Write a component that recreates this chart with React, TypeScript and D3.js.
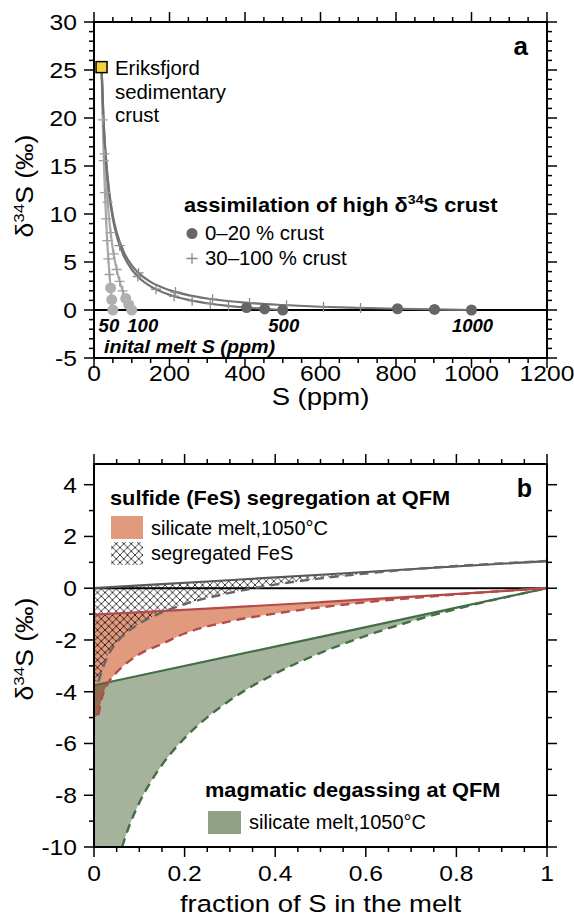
import React from 'react';
import * as d3 from 'd3';

const FONT = "'Liberation Sans', Arial, Helvetica, sans-serif";

// ---------- Panel a data: S (ppm) vs d34S ----------
const initialMeltS = ['50', '100', '500', '1000'];
const initialMeltSValue = [50, 100, 500, 1000];
const crustPoint: [number, number] = [20, 25.3];

const curve50: [number, number][] = [[50, 0], [47.5, 0.9], [45, 1.87], [42.5, 2.98], [40, 4.22], [37.5, 5.62], [35, 7.23], [32.5, 9.08], [30, 11.24], [27.5, 13.8], [25, 16.87], [22.5, 20.6], [20, 25.3]];
const curve100: [number, number][] = [[100, 0], [90, 0.7], [80, 1.58], [70, 2.71], [60, 4.22], [50, 6.33], [40, 9.49], [35, 11.75], [30, 14.76], [25, 18.98], [20, 25.3]];
const curve500: [number, number][] = [[500, 0], [450, 0.12], [400, 0.26], [350, 0.45], [300, 0.7], [250, 1.05], [200, 1.58], [150, 2.46], [120, 3.34], [100, 4.22], [80, 5.53], [60, 7.73], [50, 9.49], [40, 12.1], [30, 16.5], [25, 20.0], [20, 25.3]];
const curve1000: [number, number][] = [[1000, 0], [900, 0.06], [800, 0.13], [700, 0.22], [600, 0.34], [500, 0.52], [400, 0.77], [300, 1.2], [250, 1.55], [200, 2.07], [150, 2.93], [120, 3.79], [100, 4.65], [80, 5.94], [60, 8.09], [50, 9.81], [40, 12.4], [30, 16.7], [25, 20.1], [20, 25.3]];

const dots50: [number, number][] = [[50, 0], [47, 1.08], [44, 2.3]];
const dots100: [number, number][] = [[100, 0], [92, 0.55], [84, 1.2]];
const dots500: [number, number][] = [[500, 0], [452, 0.11], [404, 0.25]];
const dots1000: [number, number][] = [[1000, 0], [902, 0.06], [804, 0.13]];

const cross50: [number, number][] = [[41, 3.7], [38, 5.33], [35, 7.23], [32, 9.49], [29, 12.22], [26, 15.57], [23, 19.8]];
const cross100: [number, number][] = [[76, 2.0], [68, 2.98], [60, 4.22], [52, 5.84], [44, 8.05], [36, 11.24], [28, 16.26]];
const cross500: [number, number][] = [[356, 0.43], [308, 0.66], [260, 0.97], [212, 1.43], [164, 2.16], [116, 3.49], [68, 6.7]];
const cross1000: [number, number][] = [[706, 0.22], [608, 0.33], [510, 0.5], [412, 0.74], [314, 1.13], [216, 1.87], [118, 3.86]];

const xTicksA = [0, 200, 400, 600, 800, 1000, 1200];
const yTicksA = [-5, 0, 5, 10, 15, 20, 25, 30];

// ---------- Panel b data: fraction of S in melt vs d34S ----------
const fesBatch: [number, number][] = [[0, 0], [0.25, 0.26], [0.5, 0.52], [0.75, 0.79], [1, 1.05]];
const fesRayleigh: [number, number][] = [[0.01, -3.6], [0.02, -3.06], [0.03, -2.63], [0.05, -2.1], [0.075, -1.67], [0.1, -1.37], [0.15, -0.94], [0.2, -0.62], [0.3, -0.18], [0.4, 0.14], [0.5, 0.38], [0.6, 0.57], [0.7, 0.73], [0.8, 0.86], [0.9, 0.96], [1, 1.05]];
const meltFesBatch: [number, number][] = [[0, -1.02], [0.25, -0.79], [0.5, -0.54], [0.75, -0.28], [1, 0]];
const meltFesRayleigh: [number, number][] = [[0.01, -4.9], [0.015, -4.4], [0.02, -4.08], [0.03, -3.7], [0.05, -3.25], [0.075, -2.85], [0.1, -2.55], [0.15, -2.15], [0.2, -1.75], [0.3, -1.28], [0.4, -0.98], [0.5, -0.74], [0.6, -0.54], [0.7, -0.38], [0.8, -0.24], [0.9, -0.11], [1, 0]];
const meltDegasBatch: [number, number][] = [[0, -3.75], [0.5, -1.88], [1, 0]];
const meltDegasRayleigh: [number, number][] = [[0.062, -10], [0.07, -9.57], [0.08, -9.09], [0.09, -8.67], [0.1, -8.29], [0.125, -7.49], [0.15, -6.83], [0.2, -5.79], [0.25, -4.99], [0.3, -4.33], [0.4, -3.3], [0.5, -2.5], [0.6, -1.84], [0.7, -1.28], [0.8, -0.8], [0.9, -0.38], [1, 0]];

const xTicksB = [0, 0.2, 0.4, 0.6, 0.8, 1];
const yTicksB = [-10, -8, -6, -4, -2, 0, 2, 4];

const RED_FILL = '#e29a7e';
const GREEN_FILL = '#8fa084';
const RED_LINE = '#b54a4a';
const GREEN_LINE = '#426f46';
const GRAY_LINE = '#585858';

type TProps = {
  x: number; y: number; size: number; sx?: number; anchor?: string; weight?: string; italic?: boolean;
  rotate?: boolean; dy?: string; children: React.ReactNode;
};
function T({ x, y, size, sx = 1, anchor = 'start', weight, italic, rotate, dy, children }: TProps) {
  return (
    <text
      transform={`translate(${x},${y})${rotate ? ' rotate(-90)' : ''} scale(${sx},1)`}
      textAnchor={anchor}
      fontSize={size}
      fontWeight={weight}
      fontStyle={italic ? 'italic' : undefined}
      dy={dy}
      fontFamily={FONT}
    >
      {children}
    </text>
  );
}

const TICK_SIZE = 22;
const TICK_SX = 1.12;
const TITLE_SIZE = 23.5;
const TITLE_SX = 1.17;
const LEG_TITLE_SIZE = 20;
const LEG_TITLE_SX = 1.09;
const LEG_SIZE = 20;
const LEG_SX = 1.02;

export default function App() {
  const xA = d3.scaleLinear().domain([0, 1200]).range([94, 547]);
  const yA = d3.scaleLinear().domain([-5, 30]).range([358, 22]);
  const xB = d3.scaleLinear().domain([0, 1]).range([94, 547]);
  const yB = d3.scaleLinear().domain([-10, 4.8]).range([847, 464]);

  const lineA = d3.line<[number, number]>().x(d => xA(d[0])).y(d => yA(d[1])).curve(d3.curveMonotoneX);
  const lineB = d3.line<[number, number]>().x(d => xB(d[0])).y(d => yB(d[1])).curve(d3.curveMonotoneX);

  const sortAsc = (a: [number, number][]) => [...a].sort((p, q) => p[0] - q[0]);

  const fillPath = (top: [number, number][], bottom: [number, number][], leftY: number) => {
    const t = lineB(top) as string;
    const b = (lineB([...bottom].reverse()) as string).replace(/^M/, 'L');
    return `${t}${b}L${xB(0)},${yB(leftY)}Z`;
  };

  const axisStroke = 2;

  const xMinorA = d3.range(0, 1201, 50);
  const yMinorA = d3.range(-5, 31, 1);
  const xMinorB = d3.range(0, 21, 1).map(i => i * 0.05);
  const yMinorB = d3.range(-10, 5, 1);

  const lightCurves = [curve50, curve100];
  const darkCurves = [curve500, curve1000];
  const lightDots = [dots50, dots100];
  const darkDots = [dots500, dots1000];
  const lightCross = [cross50, cross100];
  const darkCross = [cross500, cross1000];
  const labelOffsets = [-4, 11, 1, 1];

  const crossPath = (pts: [number, number][]) =>
    pts.map(p => `M${xA(p[0]) - 5},${yA(p[1])}h10M${xA(p[0])},${yA(p[1]) - 5}v10`).join('');

  const deltaLabel = (x: number, y: number) => (
    <T x={x} y={y} size={23.5} sx={1.13} anchor="middle" rotate>
      <tspan>δ</tspan>
      <tspan fontSize={15} dy={-9}>34</tspan>
      <tspan dy={9}>S (‰)</tspan>
    </T>
  );

  return (
    <svg width={574} height={918} style={{ position: 'absolute', left: 0, top: 0, background: '#fff' }} fontFamily={FONT}>
      <defs>
        <pattern id="hatch" patternUnits="userSpaceOnUse" width={7.5} height={7.5}>
          <path d="M0,0L7.5,7.5M7.5,0L0,7.5" stroke="#000" strokeWidth={0.75} fill="none" />
        </pattern>
        <clipPath id="clipB">
          <rect x={xB(0)} y={yB(4.8)} width={xB(1) - xB(0)} height={yB(-10) - yB(4.8)} />
        </clipPath>
      </defs>

      {/* ================= Panel a ================= */}
      <g>
        <line x1={xA(0)} x2={xA(1200)} y1={yA(0)} y2={yA(0)} stroke="#000" strokeWidth={2} />
        {lightCurves.map((c, i) => (
          <path key={'lc' + i} d={lineA(sortAsc(c)) as string} fill="none" stroke="#a9a9a9" strokeWidth={2.2} />
        ))}
        {darkCurves.map((c, i) => (
          <path key={'dc' + i} d={lineA(sortAsc(c)) as string} fill="none" stroke="#727272" strokeWidth={2.2} />
        ))}
        {lightCross.map((c, i) => (
          <path key={'lx' + i} d={crossPath(c)} stroke="#a0a0a0" strokeWidth={1.3} fill="none" />
        ))}
        {darkCross.map((c, i) => (
          <path key={'dx' + i} d={crossPath(c)} stroke="#8a8a8a" strokeWidth={1.3} fill="none" />
        ))}
        {lightDots.map((c, i) => c.map((p, j) => (
          <circle key={'ld' + i + j} cx={xA(p[0])} cy={yA(p[1])} r={5.5} fill="#b0b0b0" />
        )))}
        {darkDots.map((c, i) => c.map((p, j) => (
          <circle key={'dd' + i + j} cx={xA(p[0])} cy={yA(p[1])} r={5.5} fill="#666" />
        )))}
        <rect x={xA(crustPoint[0]) - 5.5} y={yA(crustPoint[1]) - 5.5} width={11} height={11} fill="#f6d33c" stroke="#000" strokeWidth={1.5} />
        <T x={115} y={75} size={LEG_SIZE} sx={LEG_SX}>Eriksfjord</T>
        <T x={115} y={99} size={LEG_SIZE} sx={LEG_SX}>sedimentary</T>
        <T x={115} y={122} size={LEG_SIZE} sx={LEG_SX}>crust</T>

        <T x={184} y={212} size={LEG_TITLE_SIZE} sx={LEG_TITLE_SX} weight="bold">
          <tspan>assimilation of high δ</tspan>
          <tspan fontSize={13} dy={-8}>34</tspan>
          <tspan dy={8}>S crust</tspan>
        </T>
        <circle cx={192} cy={233.5} r={5.5} fill="#666" />
        <T x={205} y={240} size={LEG_SIZE} sx={LEG_SX}>0–20 % crust</T>
        <path d="M186.5,258.5h11M192,253v11" stroke="#888" strokeWidth={1.3} />
        <T x={205} y={265} size={LEG_SIZE} sx={LEG_SX}>30–100 % crust</T>

        {initialMeltS.map((t, i) => (
          <T key={'im' + i} x={xA(initialMeltSValue[i]) + labelOffsets[i]} y={332} size={18.5} anchor="middle" weight="bold" italic>{t}</T>
        ))}
        <T x={104} y={353} size={19} sx={1.04} weight="bold" italic>inital melt S (ppm)</T>

        <rect x={xA(0)} y={yA(30)} width={xA(1200) - xA(0)} height={yA(-5) - yA(30)} fill="none" stroke="#000" strokeWidth={axisStroke} />
        {xMinorA.map(v => {
          const major = v % 200 === 0;
          const L = major ? 10 : 5;
          return (
            <g key={'xta' + v}>
              <line x1={xA(v)} x2={xA(v)} y1={yA(30)} y2={yA(30) - L} stroke="#000" strokeWidth={1.5} />
              <line x1={xA(v)} x2={xA(v)} y1={yA(-5)} y2={yA(-5) + L} stroke="#000" strokeWidth={1.5} />
            </g>
          );
        })}
        {yMinorA.map(v => {
          const major = v % 5 === 0;
          const L = major ? 10 : 5;
          return (
            <g key={'yta' + v}>
              <line x1={xA(0)} x2={xA(0) - L} y1={yA(v)} y2={yA(v)} stroke="#000" strokeWidth={1.5} />
              <line x1={xA(1200)} x2={xA(1200) + L} y1={yA(v)} y2={yA(v)} stroke="#000" strokeWidth={1.5} />
            </g>
          );
        })}
        {xTicksA.map(v => (
          <T key={'xla' + v} x={xA(v)} y={381} size={TICK_SIZE} sx={TICK_SX} anchor="middle">{v}</T>
        ))}
        {yTicksA.map(v => (
          <T key={'yla' + v} x={77} y={yA(v)} dy="0.36em" size={TICK_SIZE} sx={TICK_SX} anchor="end">{v}</T>
        ))}
        <T x={(xA(0) + xA(1200)) / 2} y={405} size={TITLE_SIZE} sx={TITLE_SX} anchor="middle">S (ppm)</T>
        {deltaLabel(33, 186)}
        <T x={528} y={55} size={26} anchor="end" weight="bold">a</T>
      </g>

      {/* ================= Panel b ================= */}
      <g>
        <g clipPath="url(#clipB)">
          <path d={fillPath(meltDegasBatch, meltDegasRayleigh, -10)} fill={GREEN_FILL} fillOpacity={0.8} />
          <path d={fillPath(meltFesBatch, meltFesRayleigh, -5.0)} fill={RED_FILL} style={{ mixBlendMode: 'multiply' }} />
          <path d={fillPath(fesBatch, fesRayleigh, -3.6)} fill="url(#hatch)" />
          <line x1={xB(0)} x2={xB(1)} y1={yB(0)} y2={yB(0)} stroke="#000" strokeWidth={2} />
          <path d={lineB(meltDegasBatch) as string} fill="none" stroke={GREEN_LINE} strokeWidth={2.2} />
          <path d={lineB(meltDegasRayleigh) as string} fill="none" stroke={GREEN_LINE} strokeWidth={2.4} strokeDasharray="9,6" />
          <path d={lineB(meltFesBatch) as string} fill="none" stroke={RED_LINE} strokeWidth={2.2} />
          <path d={lineB(meltFesRayleigh) as string} fill="none" stroke={RED_LINE} strokeWidth={2.4} strokeDasharray="9,6" />
          <path d={lineB(fesBatch) as string} fill="none" stroke={GRAY_LINE} strokeWidth={2.2} />
          <path d={lineB(fesRayleigh) as string} fill="none" stroke="#666" strokeWidth={2.4} strokeDasharray="9,6" />
        </g>

        <T x={110} y={505} size={LEG_TITLE_SIZE} sx={LEG_TITLE_SX} weight="bold">sulfide (FeS) segregation at QFM</T>
        <rect x={111} y={516} width={32} height={23} fill={RED_FILL} />
        <T x={151} y={535} size={LEG_SIZE} sx={1}>silicate melt,1050°C</T>
        <rect x={111} y={542} width={32} height={23} fill="url(#hatch)" />
        <T x={151} y={560} size={LEG_SIZE} sx={1}>segregated FeS</T>

        <T x={205} y={797} size={LEG_TITLE_SIZE} sx={LEG_TITLE_SX} weight="bold">magmatic degassing at QFM</T>
        <rect x={208} y={811} width={33} height={23} fill={GREEN_FILL} />
        <T x={249} y={829} size={LEG_SIZE} sx={1}>silicate melt,1050°C</T>

        <rect x={xB(0)} y={yB(4.8)} width={xB(1) - xB(0)} height={yB(-10) - yB(4.8)} fill="none" stroke="#000" strokeWidth={axisStroke} />
        {xMinorB.map((v, i) => {
          const major = i % 4 === 0;
          const L = major ? 10 : 5;
          return (
            <g key={'xtb' + i}>
              <line x1={xB(v)} x2={xB(v)} y1={yB(4.8)} y2={yB(4.8) - L} stroke="#000" strokeWidth={1.5} />
              <line x1={xB(v)} x2={xB(v)} y1={yB(-10)} y2={yB(-10) + L} stroke="#000" strokeWidth={1.5} />
            </g>
          );
        })}
        {yMinorB.map(v => {
          const major = v % 2 === 0;
          const L = major ? 10 : 5;
          return (
            <g key={'ytb' + v}>
              <line x1={xB(0)} x2={xB(0) - L} y1={yB(v)} y2={yB(v)} stroke="#000" strokeWidth={1.5} />
              <line x1={xB(1)} x2={xB(1) + L} y1={yB(v)} y2={yB(v)} stroke="#000" strokeWidth={1.5} />
            </g>
          );
        })}
        {xTicksB.map(v => (
          <T key={'xlb' + v} x={xB(v)} y={881} size={TICK_SIZE} sx={TICK_SX} anchor="middle">{v === 0 ? '0' : v === 1 ? '1' : v.toFixed(1)}</T>
        ))}
        {yTicksB.map(v => (
          <T key={'ylb' + v} x={77} y={yB(v)} dy="0.36em" size={TICK_SIZE} sx={TICK_SX} anchor="end">{v}</T>
        ))}
        <T x={(xB(0) + xB(1)) / 2} y={912} size={TITLE_SIZE} sx={TITLE_SX} anchor="middle">fraction of S in the melt</T>
        {deltaLabel(33, 649)}
        <T x={532} y={497} size={25} anchor="end" weight="bold">b</T>
      </g>
    </svg>
  );
}
